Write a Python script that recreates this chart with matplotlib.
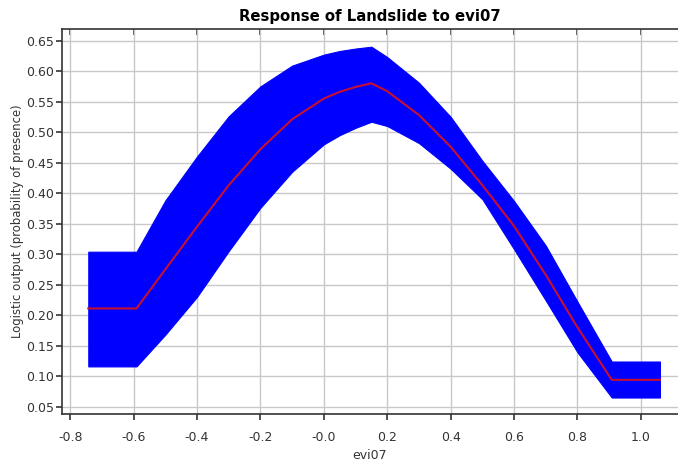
import matplotlib
matplotlib.use("Agg")
import matplotlib.pyplot as plt
import numpy as np

# response curve values
evi07 = [-0.743, -0.591, -0.5, -0.4, -0.3, -0.2, -0.1, 0.0, 0.05, 0.1, 0.15,
         0.2, 0.3, 0.4, 0.5, 0.6, 0.7, 0.8, 0.908, 1.06]
mean_resp = [0.211, 0.211, 0.275, 0.345, 0.413, 0.472, 0.521, 0.555, 0.566, 0.574, 0.580,
             0.567, 0.528, 0.476, 0.413, 0.346, 0.266, 0.180, 0.094, 0.094]
upper_resp = [0.304, 0.304, 0.388, 0.460, 0.526, 0.575, 0.609, 0.627, 0.633, 0.637, 0.640,
              0.623, 0.581, 0.525, 0.453, 0.387, 0.314, 0.222, 0.124, 0.124]
lower_resp = [0.116, 0.116, 0.168, 0.230, 0.305, 0.376, 0.435, 0.480, 0.495, 0.507, 0.517,
              0.510, 0.482, 0.440, 0.390, 0.308, 0.224, 0.139, 0.065, 0.065]

x_ticks = [-0.8, -0.6, -0.4, -0.2, 0.0, 0.2, 0.4, 0.6, 0.8, 1.0]
x_labels = ['-0.8', '-0.6', '-0.4', '-0.2', '-0.0', '0.2', '0.4', '0.6', '0.8', '1.0']
y_ticks = [0.05, 0.10, 0.15, 0.20, 0.25, 0.30, 0.35, 0.40, 0.45, 0.50, 0.55, 0.60, 0.65]

plt.rcParams['font.family'] = ['DejaVu Sans']

fig = plt.figure(figsize=(6.78, 4.65), dpi=100)
ax = fig.add_axes([0.0914, 0.1097, 0.9086, 0.8279])

# band (mean +/- one sd) and the mean line
ax.fill_between(evi07, lower_resp, upper_resp, color='#0000ff', linewidth=0.8,
                edgecolor='#0000ff', zorder=2)
ax.plot(evi07, mean_resp, color='#c8102e', linewidth=1.5, zorder=3)

ax.set_xlim(-0.826, 1.117)
ax.set_ylim(0.038, 0.669)
ax.set_xticks(x_ticks)
ax.set_xticklabels(x_labels)
ax.set_yticks(y_ticks)
ax.set_yticklabels(['%.2f' % v for v in y_ticks])

ax.grid(True, color='#c8c8c8', linewidth=1.0, zorder=0)
ax.set_axisbelow(True)

for side in ['left', 'bottom', 'top']:
    ax.spines[side].set_color('#333333')
    ax.spines[side].set_linewidth(1.2)
ax.spines['right'].set_visible(False)

ax.tick_params(axis='x', direction='out', length=4, width=1.2,
               colors='#333333', labelsize=9, labelcolor='#333333', pad=8)
ax.tick_params(axis='y', direction='out', length=4, width=1.2, colors='#333333',
               labelsize=9, labelcolor='#333333', pad=2)

# inward ticks along the top edge
top = ax.secondary_xaxis('top')
top.set_xticks(x_ticks)
top.tick_params(direction='in', length=4, width=1.2, colors='#333333', labeltop=False)
top.spines['top'].set_visible(False)

ax.set_title("Response of Landslide to evi07", fontsize=10.7, fontweight='bold', pad=6)
ax.set_xlabel("evi07", fontsize=9, color='#333333', labelpad=4)
ax.set_ylabel("Logistic output (probability of presence)", fontsize=8.4, color='#333333',
              labelpad=1)

fig.savefig("out.png", dpi=100)
